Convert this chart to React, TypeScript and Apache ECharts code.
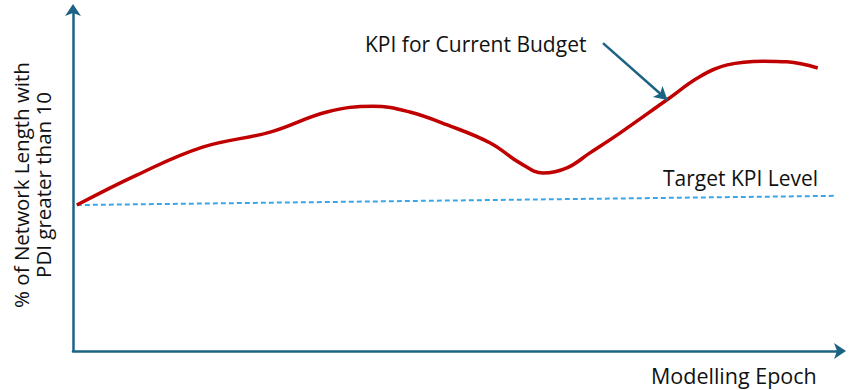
import React, { useEffect, useRef } from "react";
import * as echarts from "echarts";

const epochs = [0.5, 8.3, 16.9, 25.7, 33.1, 39.1, 43.9, 48.8, 54.4, 58.3, 61.3, 64.4, 67.4, 71.3, 77.4, 81.7, 85.3, 90.0, 93.1, 97.1];
const kpiValues = [42.8, 51.6, 59.8, 64.2, 70.1, 71.8, 70.1, 66.3, 61.0, 55.1, 52.2, 53.7, 58.1, 63.9, 73.6, 80.4, 83.9, 85.0, 84.8, 83.0];
const targetEpochs = [0.5, 99.3];
const targetValues = [42.8, 45.5];
const arrowFrom = [69.1, 90.3];
const arrowTo = [77.5, 73.6];

const AXIS = "#1B6385";
const FONT = "Open Sans";

export default function App() {
  const ref = useRef<HTMLDivElement>(null);
  useEffect(() => {
    const chart = echarts.init(ref.current!, null, { renderer: "svg" });
    chart.setOption({
      animation: false,
      grid: { left: 73, right: 9, top: 10, bottom: 39 },
      xAxis: {
        type: "value",
        min: 0,
        max: 100,
        axisLine: { show: true, lineStyle: { color: AXIS, width: 2.5 }, symbol: ["none", "arrow"], symbolSize: [12, 12], symbolOffset: [0, 6] },
        axisTick: { show: false },
        axisLabel: { show: false },
        splitLine: { show: false },
      },
      yAxis: {
        type: "value",
        min: 0,
        max: 100,
        axisLine: { show: true, lineStyle: { color: AXIS, width: 2.5 }, symbol: ["none", "arrow"], symbolSize: [12, 12], symbolOffset: [0, 6] },
        axisTick: { show: false },
        axisLabel: { show: false },
        splitLine: { show: false },
      },
      series: [
        {
          type: "line",
          data: targetEpochs.map((x, i) => [x, targetValues[i]]),
          symbol: "none",
          lineStyle: { color: "#3AA8E4", width: 2, type: [5, 3] },
          z: 2,
        },
        {
          type: "line",
          data: epochs.map((x, i) => [x, kpiValues[i]]),
          smooth: 0.4,
          symbol: "none",
          lineStyle: { color: "#C00000", width: 3.5 },
          z: 3,
          markLine: {
            silent: true,
            symbol: ["none", "arrow"],
            symbolSize: [11, 13],
            label: { show: false },
            lineStyle: { color: AXIS, width: 2.5, type: "solid" },
            data: [[{ coord: arrowFrom }, { coord: arrowTo }]],
          },
        },
      ],
      graphic: [
        { type: "text", x: 365, y: 44, style: { text: "KPI for Current Budget", font: `21px "${FONT}"`, fill: "#111", verticalAlign: "middle" } },
        { type: "text", x: 663, y: 178, style: { text: "Target KPI Level", font: `21px "${FONT}"`, fill: "#111", verticalAlign: "middle" } },
        { type: "text", x: 651, y: 375, style: { text: "Modelling Epoch", font: `21.5px "${FONT}"`, fill: "#111", verticalAlign: "middle" } },
        {
          type: "text",
          x: 32,
          y: 185,
          rotation: Math.PI / 2,
          style: {
            text: "% of Network Length with\nPDI greater than 10",
            font: `20.5px "${FONT}"`,
            lineHeight: 22,
            fill: "#111",
            align: "center",
            verticalAlign: "middle",
          },
        },
      ],
    });
    return () => chart.dispose();
  }, []);
  return <div ref={ref} style={{ width: 849, height: 390, position: "absolute", left: 0, top: 0 }} />;
}
